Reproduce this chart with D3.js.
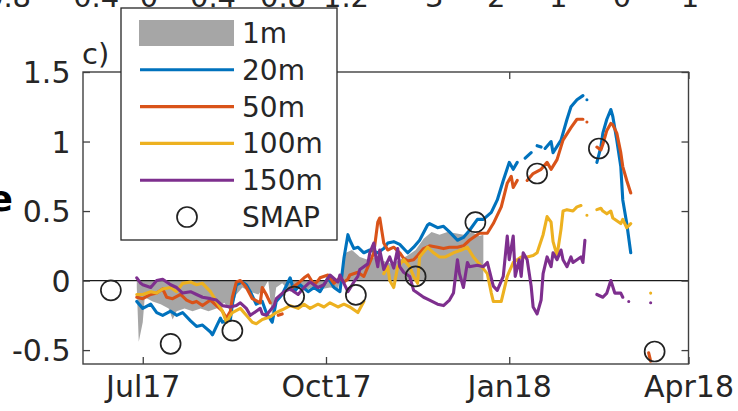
<!DOCTYPE html>
<html><head><meta charset="utf-8">
<script src="https://cdn.jsdelivr.net/npm/d3@7"></script>
<style>
html,body{margin:0;padding:0;background:#fff;}
svg{display:block;font-family:"DejaVu Sans",sans-serif;}
</style>
</head><body>
<svg id="chart" width="738" height="411"></svg>
<script>
// ---------------- DATA ----------------
// x values are days since 2017-06-01; null marks a gap in the record
const baseDateStr = "2017-06-01";
const xTickDates = ["2017-07-01","2017-10-01","2018-01-01","2018-04-01"];
const xTickLabels = ["Jul17","Oct17","Jan18","Apr18"];
const yTicks = [-0.5, 0, 0.5, 1, 1.5];
const yTickLabels = ["-0.5","0","0.5","1","1.5"];
const legendLabels = ["1m","20m","50m","100m","150m","SMAP"];
const panelLabel = "c)";
const topPanelLabels = ["0.8","-0.4","0","0.4","0.8","1.2","-3","-2","-1","0","1"];

const s1m = [[27,-0.05],[28,-0.44],[30,-0.3],[31,-0.12],[35,-0.15],[39,-0.17],[43,-0.2],[45,-0.28],[47,-0.22],
  [51,-0.2],[55,-0.22],[59,-0.2],[63,-0.22],[67,-0.2],[71,-0.16],[74,-0.22],[77,-0.1],[80,-0.05],[84,-0.08],
  [88,-0.1],[91,-0.05],[93,0.0],[95,-0.26],[97,-0.05],[100,-0.02],[104,-0.08],[108,-0.05],[112,-0.07],[116,-0.04],
  [120,-0.06],[124,-0.05],[128,-0.06],[130,0.05],[132,0.2],[135,0.22],[139,0.17],[143,0.15],[147,0.17],[151,0.14],
  [155,0.12],[159,0.15],[163,0.18],[167,0.22],[171,0.3],[175,0.35],[179,0.33],[183,0.35],[187,0.34],[191,0.33],
  [195,0.35],[199,0.32],[201,0.33]];

const s20m = [[27,-0.15],[30,-0.2],[34,-0.17],[37,-0.23],[40,-0.25],[44,-0.22],[47,-0.25],[50,-0.23],[54,-0.29],
  [57,-0.33],[60,-0.32],[64,-0.37],[65,-0.39],[67,-0.33],[69,-0.27],[70,-0.3],[74,-0.28],[75,-0.17],[77,-0.03],
  [80,-0.01],[82,-0.03],[84,-0.08],[87,-0.17],[90,-0.15],[92,-0.23],[95,-0.3],[97,-0.15],[100,-0.1],[104,0.02],
  [106,-0.08],[109,-0.03],[113,-0.08],[116,-0.05],[119,-0.08],[123,0.02],[126,-0.05],[129,-0.08],[131,0.16],
  [133,0.33],[134,0.29],[136,0.23],[138,0.24],[141,0.2],[144,0.22],[148,0.2],[151,0.23],[153,0.27],[156,0.28],
  [159,0.26],[163,0.2],[166,0.24],[169,0.29],[173,0.4],[174,0.41],[178,0.38],[181,0.39],[184,0.35],[188,0.29],
  [191,0.31],[194,0.36],[198,0.44],[201,0.44],[205,0.49],[208,0.58],[211,0.72],[214,0.85],[216,0.8],[218,0.85],
  [220,null],[222,0.88],[225,0.92],[226,null],[228,0.97],[230,0.96],[231,null],[232,0.95],[235,1.0],[236,0.92],
  [240,1.01],[243,1.16],[245,1.25],[248,1.3],[251,1.33],[252,null],[253,1.3],[255,null],
  [258,0.85],[260,0.96],[261,1.06],[263,1.16],[265,1.23],[266,1.18],[268,1.01],[270,0.82],[271,0.58],[273,0.41],[275,0.2]];

const s50m = [[27,-0.12],[30,-0.13],[34,-0.1],[37,-0.09],[40,-0.06],[42,-0.12],[45,-0.13],[49,-0.1],[52,-0.14],
  [55,-0.16],[57,-0.15],[60,-0.18],[64,-0.14],[67,-0.18],[70,-0.22],[72,-0.27],[74,-0.22],[75,-0.12],[77,-0.01],
  [79,0.0],[81,-0.03],[82,-0.05],[85,-0.13],[89,-0.16],[90,-0.05],[92,-0.1],[94,-0.16],[96,null],[98,-0.25],[100,-0.24],
  [102,null],[104,-0.06],[108,-0.02],[111,0.02],[113,0.04],[116,-0.03],[118,0.0],[119,0.02],[123,0.04],[126,-0.02],
  [129,0.02],[131,-0.01],[133,0.01],[134,0.04],[138,0.06],[141,0.03],[144,0.13],[146,0.2],[148,0.42],[149,0.45],
  [151,0.27],[153,0.22],[156,0.24],[159,0.2],[161,0.16],[163,0.14],[166,0.15],[168,0.18],[171,0.23],[174,0.25],
  [178,0.24],[181,0.23],[184,0.24],[188,0.24],[191,0.25],[194,0.29],[199,0.34],[203,0.34],[206,0.41],[210,0.53],
  [213,0.7],[215,0.75],[216,0.67],[218,0.72],[220,null],[223,0.72],[226,0.77],[230,0.8],[233,0.85],[235,0.8],
  [238,0.87],[241,1.01],[245,1.1],[248,1.16],[251,1.16],[252,null],[253,1.14],[255,null],
  [258,0.96],[260,0.94],[261,0.98],[263,1.08],[265,1.13],[266,1.12],[268,1.06],[270,0.92],[271,0.82],[273,0.72],
  [275,0.63],[277,null],[284,-0.52],[285,-0.58]];

const s100m = [[27,-0.1],[30,-0.1],[34,-0.08],[37,-0.09],[40,-0.06],[44,-0.05],[47,-0.08],[50,-0.02],[54,-0.01],
  [57,-0.03],[60,-0.02],[64,-0.08],[67,-0.15],[70,-0.22],[72,-0.3],[74,-0.25],[75,-0.23],[79,-0.2],[82,-0.25],
  [85,-0.3],[87,-0.31],[90,-0.28],[94,-0.26],[97,-0.23],[100,-0.21],[104,-0.18],[108,-0.2],[111,-0.17],[114,-0.2],
  [118,-0.17],[121,-0.19],[124,-0.16],[128,-0.19],[131,-0.17],[134,-0.19],[138,-0.23],[141,-0.15],[144,null],
  [151,0.05],[153,0.1],[154,0.0],[156,-0.05],[158,0.1],[161,0.15],[164,0.1],[166,0.03],[168,-0.02],[169,0.17],
  [173,0.24],[176,0.2],[179,0.17],[182,0.17],[186,0.2],[190,0.22],[193,0.24],[196,0.17],[199,0.12],[203,0.05],
  [205,-0.09],[206,-0.15],[210,-0.15],[211,-0.09],[213,0.03],[216,0.13],[220,0.17],[223,0.17],[226,0.18],[228,0.2],
  [231,0.33],[233,0.46],[235,0.42],[236,0.28],[238,0.18],[240,0.37],[241,0.5],[243,0.51],[246,0.5],[248,0.53],
  [250,0.54],[252,null],[253,0.47],[255,null],[258,0.51],[260,0.52],[261,0.5],[263,0.48],[265,0.5],[266,0.45],
  [268,0.43],[270,0.41],[271,0.44],[273,0.38],[275,0.41],[277,null],[285,-0.09]];

const s150m = [[27,0.02],[29,-0.02],[30,-0.03],[34,-0.05],[37,0.0],[40,0.01],[44,-0.03],[47,-0.05],[50,-0.09],
  [54,-0.08],[57,-0.1],[60,-0.12],[64,-0.13],[67,-0.14],[70,-0.18],[74,-0.19],[77,-0.18],[79,-0.16],[82,-0.2],
  [84,-0.25],[87,-0.22],[89,-0.2],[90,-0.24],[92,-0.25],[96,-0.18],[97,-0.13],[101,-0.08],[104,-0.06],[108,-0.1],
  [111,-0.05],[114,-0.01],[118,-0.05],[121,-0.03],[124,0.04],[128,-0.01],[129,0.04],[133,-0.08],[136,-0.01],
  [138,0.03],[139,0.08],[143,0.12],[144,0.2],[146,0.27],[147,0.17],[148,0.1],[149,0.22],[151,0.08],[153,0.14],
  [154,0.17],[156,0.09],[158,0.23],[159,0.1],[161,0.06],[164,0.03],[166,-0.07],[168,-0.09],[171,-0.12],[174,-0.14],
  [178,-0.17],[181,-0.18],[184,-0.14],[186,-0.09],[188,0.15],[189,0.05],[191,-0.05],[193,0.13],[194,0.1],[198,0.11],
  [201,0.1],[203,0.13],[206,-0.04],[208,-0.07],[211,0.03],[213,0.32],[214,0.15],[216,0.32],[217,0.03],[219,0.15],
  [220,0.03],[221,0.2],[223,0.15],[225,-0.04],[226,-0.19],[228,-0.24],[230,-0.14],[231,0.05],[233,0.17],[235,0.1],
  [236,0.2],[238,0.15],[240,0.22],[241,0.15],[243,0.1],[245,0.17],[246,0.13],[250,0.17],[251,0.13],[252,0.29],
  [254,null],[258,-0.1],[261,-0.12],[263,-0.09],[265,0.0],[267,-0.09],[270,-0.09],[271,-0.12],[272,null],[274,-0.15],
  [276,null],[285,-0.16]];

const smapDays = [14,44,75,106,137,167,197,228,259,287];
const smapValues = [-0.07,-0.455,-0.36,-0.115,-0.103,0.03,0.42,0.77,0.95,-0.51];

// ---------------- STYLE / LAYOUT ----------------
const lineSeries = [
  {data:s20m,  color:"#0072BD"},
  {data:s50m,  color:"#D95319"},
  {data:s100m, color:"#EDB120"},
  {data:s150m, color:"#7E2F8E"}
];
const areaColor = "#a6a6a6";
const textColor = "#262626";
const axisColor = "#404040";
const lineW = 3.1;

const svg = d3.select("#chart");
const parse = d3.timeParse("%Y-%m-%d");
const base = parse(baseDateStr);
const toDate = d => d3.timeDay.offset(base, d);

const x = d3.scaleTime().domain([base, parse("2018-04-01")]).range([83, 688.5]);
const y = d3.scaleLinear().domain([-0.6, 1.5]).range([364, 72]);

// 1m area
const area = d3.area()
  .defined(d => d[1] != null)
  .x(d => x(toDate(d[0])))
  .y0(y(0))
  .y1(d => y(d[1]));
svg.append("path").datum(s1m).attr("d", area).attr("fill", areaColor);

// zero line
svg.append("line").attr("x1", x.range()[0]).attr("x2", x.range()[1])
  .attr("y1", y(0)).attr("y2", y(0)).attr("stroke", "#1a1a1a").attr("stroke-width", 1.3);

// lines
const line = d3.line()
  .defined(d => d[1] != null)
  .x(d => x(toDate(d[0])))
  .y(d => y(d[1]));
lineSeries.forEach(s => {
  svg.append("path").datum(s.data).attr("d", line)
    .attr("fill", "none").attr("stroke", s.color).attr("stroke-width", lineW)
    .attr("stroke-linejoin", "round").attr("stroke-linecap", "round");
});

// SMAP circles
svg.append("g").selectAll("circle").data(smapDays.map((d,i)=>[d, smapValues[i]])).join("circle")
  .attr("cx", d => x(toDate(d[0]))).attr("cy", d => y(d[1])).attr("r", 10)
  .attr("fill", "none").attr("stroke", "#222").attr("stroke-width", 1.7);

// axes
const xt = xTickDates.map(parse);
const fontTick = 30;
const gB = svg.append("g").attr("transform", `translate(0,${y.range()[0]})`)
  .call(d3.axisBottom(x).tickValues(xt).tickFormat((d,i)=>xTickLabels[i]).tickSizeInner(-7).tickSizeOuter(0).tickPadding(12));
const gT = svg.append("g").attr("transform", `translate(0,${y.range()[1]})`)
  .call(d3.axisTop(x).tickValues(xt).tickFormat("").tickSizeInner(-7).tickSizeOuter(0));
const gL = svg.append("g").attr("transform", `translate(${x.range()[0]},0)`)
  .call(d3.axisLeft(y).tickValues(yTicks).tickFormat((d,i)=>yTickLabels[i]).tickSizeInner(-7).tickSizeOuter(0).tickPadding(12.5));
const gR = svg.append("g").attr("transform", `translate(${x.range()[1]},0)`)
  .call(d3.axisRight(y).tickValues(yTicks).tickFormat("").tickSizeInner(-7).tickSizeOuter(0));
[gB,gT,gL,gR].forEach(g => {
  g.select(".domain").remove();
  g.selectAll(".tick line").attr("stroke", axisColor).attr("stroke-width", 1.3);
  g.selectAll("text").attr("fill", textColor).style("font-size", fontTick+"px").style("font-family", "DejaVu Sans");
});
gL.selectAll("text").attr("dy", "0.36em");

// box
svg.append("rect").attr("x", x.range()[0]).attr("y", y.range()[1])
  .attr("width", x.range()[1]-x.range()[0]).attr("height", y.range()[0]-y.range()[1])
  .attr("fill", "none").attr("stroke", axisColor).attr("stroke-width", 1.4);

// panel label
svg.append("text").attr("x", 82).attr("y", 64).text(panelLabel)
  .attr("fill", textColor).style("font-size", "29px");

// partial labels from neighbouring panels (cut at top edge, as in the reference)
const topLabelX = [8, 91, 149, 213, 283, 346, 429, 491, 553, 622, 690];
svg.append("g").selectAll("text").data(topPanelLabels).join("text")
  .attr("x", (d,i)=>topLabelX[i]).attr("y", 7).attr("text-anchor", "middle")
  .attr("fill", textColor).style("font-size", "29px").text(d=>d);

// partial bold letter at left edge
svg.append("text").attr("x", 13).attr("y", 211).attr("text-anchor", "end")
  .style("font-size", "36px").style("font-weight", "bold").attr("fill", "#000").text("e");

// legend
const lg = svg.append("g");
lg.append("rect").attr("x", 121).attr("y", 8).attr("width", 216).attr("height", 232)
  .attr("fill", "#fff").attr("stroke", textColor).attr("stroke-width", 1.3);
const rowY = i => 33 + i*36.8;
const sx0 = 140, sx1 = 234;
legendLabels.forEach((lab, i) => {
  const cy = rowY(i);
  if (i === 0) {
    lg.append("rect").attr("x", sx0-1).attr("y", cy-13).attr("width", sx1-sx0+1).attr("height", 26).attr("fill", areaColor);
  } else if (i <= 4) {
    lg.append("line").attr("x1", sx0).attr("x2", sx1).attr("y1", cy).attr("y2", cy)
      .attr("stroke", lineSeries[i-1].color).attr("stroke-width", lineW);
  } else {
    lg.append("circle").attr("cx", (sx0+sx1)/2).attr("cy", cy).attr("r", 10)
      .attr("fill", "none").attr("stroke", "#222").attr("stroke-width", 1.7);
  }
  lg.append("text").attr("x", 242).attr("y", cy).attr("dy", "0.36em")
    .attr("fill", textColor).style("font-size", "28px").text(lab);
});
</script>
</body></html>
